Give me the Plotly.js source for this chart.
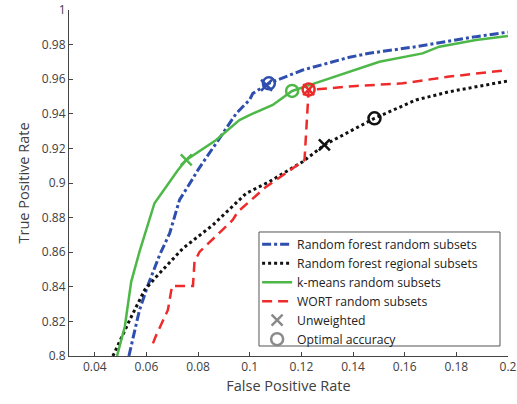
<!DOCTYPE html>
<html>
<head>
<meta charset="utf-8">
<script src="https://cdn.plot.ly/plotly-3.0.1.min.js"></script>
<style>html,body{margin:0;padding:0;background:#fff}#chart{width:517px;height:404px}</style>
</head>
<body>
<div id="chart"></div>
<script>
// Random forest random subsets
var rfRandomX = [0.0532,0.0573,0.0606,0.0651,0.069,0.0728,0.0780,0.0799,0.0896,0.0948,0.0999,0.1012,0.1074,0.1205,0.1386,0.1463,0.1644,0.1876,0.2];
var rfRandomY = [0.80,0.8266,0.841,0.8584,0.871,0.8902,0.9027,0.9075,0.9287,0.9403,0.948,0.9518,0.9576,0.9653,0.9727,0.975,0.9788,0.9846,0.9872];
// Random forest regional subsets
var rfRegionalX = [0.047,0.0535,0.0593,0.0638,0.0741,0.0857,0.0986,0.1076,0.1205,0.1289,0.1483,0.1644,0.1774,0.2];
var rfRegionalY = [0.80,0.8208,0.8382,0.8458,0.8622,0.8757,0.894,0.9008,0.9123,0.922,0.9374,0.948,0.9528,0.959];
// k-means random subsets
var kmeansX = [0.0486,0.0516,0.0541,0.0573,0.0631,0.0722,0.0754,0.087,0.096,0.0999,0.1089,0.1141,0.1164,0.1231,0.1386,0.1502,0.1669,0.1734,0.1876,0.2];
var kmeansY = [0.80,0.8169,0.843,0.8603,0.8883,0.9075,0.9133,0.9249,0.9364,0.9393,0.9451,0.9509,0.9532,0.9566,0.9644,0.9701,0.9749,0.9788,0.9827,0.985];
// WORT random subsets
var wortX = [0.0625,0.0638,0.0683,0.0696,0.0699,0.078,0.0786,0.0806,0.0896,0.0934,0.0954,0.1064,0.1167,0.1212,0.1228,0.1412,0.1592,0.1773,0.2];
var wortY = [0.8073,0.8121,0.8266,0.8372,0.8405,0.8405,0.8545,0.8603,0.8728,0.8786,0.8834,0.8979,0.9085,0.9133,0.9538,0.9561,0.9576,0.9615,0.9653];
// Marker points, order: [rfRandom, rfRegional, kmeans, wort]
var unweightedX = [0.1065,0.1289,0.0754,0.1228];
var unweightedY = [0.9565,0.922,0.9133,0.954];
var optimalX = [0.1074,0.1483,0.1164,0.1228];
var optimalY = [0.9576,0.9374,0.9532,0.954];
var seriesNames = ["Random forest random subsets","Random forest regional subsets","k-means random subsets","WORT random subsets"];
var markerNames = ["Unweighted","Optimal accuracy"];
var xTicks = [0.04,0.06,0.08,0.1,0.12,0.14,0.16,0.18,0.2];
var xTickText = ['0.04','0.06','0.08','0.1','0.12','0.14','0.16','0.18','0.2'];
var yTicks = [0.8,0.82,0.84,0.86,0.88,0.9,0.92,0.94,0.96,0.98,1];
var yTickText = ['0.8','0.82','0.84','0.86','0.88','0.9','0.92','0.94','0.96','0.98','1'];

var colors = ["#2f4fae","#111111","#4db848","#ee2a2a"];
var dashes = ["dashdot","dot","solid","10px,6px"];
var widths = [3,3,2.5,2.5];

var xs = [rfRandomX, rfRegionalX, kmeansX, wortX];
var ys = [rfRandomY, rfRegionalY, kmeansY, wortY];
var traces = [];
for (var i = 0; i < 4; i++) {
  traces.push({x: xs[i], y: ys[i], type: 'scatter', mode: 'lines', name: seriesNames[i],
    line: {color: colors[i], width: widths[i], dash: dashes[i]}});
}
for (var j = 0; j < 4; j++) {
  traces.push({x: [unweightedX[j]], y: [unweightedY[j]], type: 'scatter', mode: 'markers', showlegend: false,
    marker: {symbol: 'x-thin-open', size: 11, color: colors[j], line: {color: colors[j], width: 2.5}}});
  traces.push({x: [optimalX[j]], y: [optimalY[j]], type: 'scatter', mode: 'markers', showlegend: false,
    marker: {symbol: 'circle-open', size: 12, color: colors[j], line: {color: colors[j], width: 2.5}}});
}
traces.push({x: [null], y: [null], type: 'scatter', mode: 'markers', name: markerNames[0],
  marker: {symbol: 'x-thin-open', size: 11, color: '#8a8a8a', line: {color: '#8a8a8a', width: 2.5}}});
traces.push({x: [null], y: [null], type: 'scatter', mode: 'markers', name: markerNames[1],
  marker: {symbol: 'circle-open', size: 12, color: '#8a8a8a', line: {color: '#8a8a8a', width: 2.5}}});

var axisCommon = {
  showgrid: false, zeroline: false, showline: true, linecolor: '#444', linewidth: 1,
  ticks: 'inside', ticklen: 4, tickcolor: '#444', tickfont: {family: 'Open Sans', size: 12, color: '#404040'},
  mirror: false
};
var layout = {
  width: 517, height: 404,
  margin: {l: 69, r: 9, t: 10, b: 48},
  paper_bgcolor: '#fff', plot_bgcolor: '#fff',
  font: {family: 'Open Sans', color: '#404040'},
  xaxis: Object.assign({}, axisCommon, {range: [0.03, 0.2], tickvals: xTicks, ticktext: xTickText,
    title: {text: 'False Positive Rate', font: {family: 'Open Sans', size: 14.5, color: '#404040'}, standoff: 6}}),
  yaxis: Object.assign({}, axisCommon, {range: [0.8, 1], tickvals: yTicks, ticktext: yTickText,
    title: {text: 'True Positive Rate', font: {family: 'Open Sans', size: 14.5, color: '#404040'}, standoff: 8}}),
  shapes: [{type: 'rect', xref: 'paper', yref: 'paper', x0: 0.4328, x1: 0.9818, y0: 0.0289, y1: 0.3584,
    line: {color: '#555', width: 1}, fillcolor: '#fff', layer: 'above'}],
  legend: {x: 0.4285, y: 0.365, xanchor: 'left', yanchor: 'top', bgcolor: 'rgba(0,0,0,0)', borderwidth: 0,
    font: {family: 'Open Sans', size: 12.2, color: '#222'}, itemwidth: 30, tracegroupgap: 0},
  showlegend: true
};
Plotly.newPlot('chart', traces, layout, {staticPlot: true, displayModeBar: false});
</script>
</body>
</html>
